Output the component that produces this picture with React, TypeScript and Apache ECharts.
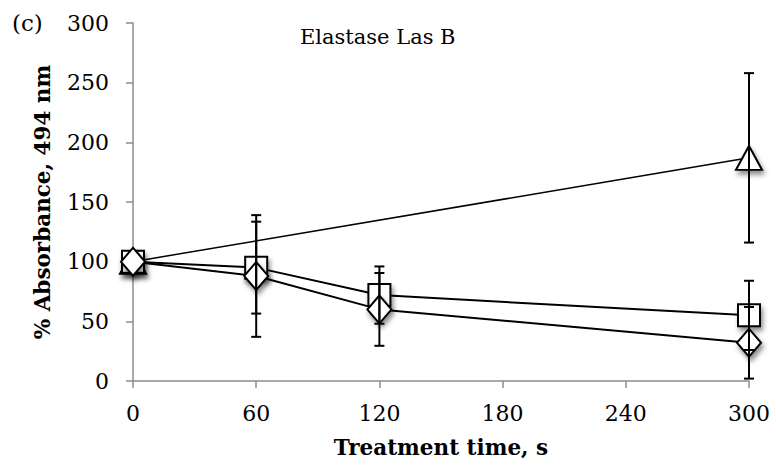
import React, { useEffect, useRef } from "react";
import * as echarts from "echarts";

const xTicks = [0, 60, 120, 180, 240, 300];
const squareX = [0, 60, 120, 300];
const squareY = [100, 95, 72, 55];
const squareErr = [0, 38.5, 24, 29];
const diamondX = [0, 60, 120, 300];
const diamondY = [100, 88, 60, 32];
const diamondErr = [0, 51, 30.5, 30];
const triangleX = [0, 300];
const triangleY = [100, 187];
const triangleErr = [0, 71];

const FONT = "DejaVu Serif";

function pairs(xs: number[], ys: number[]) {
  return xs.map((x, i) => [x, ys[i]]);
}
function errs(xs: number[], ys: number[], es: number[]) {
  return xs
    .map((x, i) => [x, ys[i] - es[i], ys[i] + es[i]])
    .filter((d, i) => es[i] > 0);
}

export default function App() {
  const ref = useRef<HTMLDivElement>(null);
  useEffect(() => {
    const chart = echarts.init(ref.current!, null, { renderer: "svg" });
    const shadow = {
      shadowBlur: 5,
      shadowOffsetX: 2,
      shadowOffsetY: 4,
      shadowColor: "rgba(0,0,0,0.45)",
    };
    const markerStyle = {
      color: "#fff",
      borderColor: "#000",
      borderWidth: 2,
      ...shadow,
    };
    const errorSeries = (data: number[][]) => ({
      type: "custom",
      z: 5,
      silent: true,
      data,
      renderItem: (params: any, api: any) => {
        const x = api.value(0);
        const lo = api.coord([x, api.value(1)]);
        const hi = api.coord([x, api.value(2)]);
        const w = 5;
        const style = { stroke: "#000", lineWidth: 2 };
        return {
          type: "group",
          children: [
            { type: "line", shape: { x1: lo[0], y1: lo[1], x2: hi[0], y2: hi[1] }, style },
            { type: "line", shape: { x1: lo[0] - w, y1: lo[1], x2: lo[0] + w, y2: lo[1] }, style },
            { type: "line", shape: { x1: hi[0] - w, y1: hi[1], x2: hi[0] + w, y2: hi[1] }, style },
          ],
        };
      },
    });
    chart.setOption({
      animation: false,
      grid: { left: 133, right: 27, top: 23, bottom: 89, containLabel: false },
      graphic: [
        {
          type: "text",
          left: 12,
          top: 11,
          style: { text: "(c)", font: `23px '${FONT}'`, fill: "#000" },
        },
        {
          type: "text",
          left: 300,
          top: 26,
          style: { text: "Elastase Las B", font: `21px '${FONT}'`, fill: "#000" },
        },
      ],
      xAxis: {
        type: "value",
        min: 0,
        max: 300,
        interval: 60,
        name: "Treatment time, s",
        nameLocation: "middle",
        nameGap: 55,
        nameTextStyle: { fontFamily: FONT, fontWeight: "bold", fontSize: 21.5, color: "#000" },
        axisLine: { lineStyle: { color: "#8c8c8c", width: 1.5 } },
        axisTick: { show: true, length: 7, lineStyle: { color: "#8c8c8c", width: 1.5 } },
        axisLabel: {
          fontFamily: FONT,
          fontSize: 22,
          color: "#000",
          margin: 21,
          formatter: (v: number) => (xTicks.includes(v) ? String(v) : ""),
        },
        splitLine: { show: false },
      },
      yAxis: {
        type: "value",
        min: 0,
        max: 300,
        interval: 50,
        name: "% Absorbance, 494 nm",
        nameLocation: "middle",
        nameGap: 80,
        nameTextStyle: { fontFamily: FONT, fontWeight: "bold", fontSize: 21.5, color: "#000" },
        axisLine: { show: true, lineStyle: { color: "#8c8c8c", width: 1.5 } },
        axisTick: { show: true, length: 7, lineStyle: { color: "#8c8c8c", width: 1.5 } },
        axisLabel: { fontFamily: FONT, fontSize: 22, color: "#000", margin: 24 },
        splitLine: { show: false },
      },
      series: [
        {
          type: "line",
          data: pairs(triangleX, triangleY),
          symbol: "triangle",
          symbolSize: [26, 24],
          lineStyle: { color: "#000", width: 1.5 },
          itemStyle: markerStyle,
          z: 2,
        },
        {
          type: "line",
          data: pairs(squareX, squareY),
          symbol: "rect",
          symbolSize: [22, 22],
          lineStyle: { color: "#000", width: 2 },
          itemStyle: markerStyle,
          z: 3,
        },
        {
          type: "line",
          data: pairs(diamondX, diamondY),
          symbol: "diamond",
          symbolSize: [24, 28],
          lineStyle: { color: "#000", width: 2 },
          itemStyle: markerStyle,
          z: 4,
        },
        errorSeries(errs(triangleX, triangleY, triangleErr)),
        errorSeries(errs(squareX, squareY, squareErr)),
        errorSeries(errs(diamondX, diamondY, diamondErr)),
      ],
    });
    return () => chart.dispose();
  }, []);
  return (
    <div
      ref={ref}
      style={{ position: "absolute", left: 0, top: 0, width: 776, height: 470 }}
    />
  );
}
